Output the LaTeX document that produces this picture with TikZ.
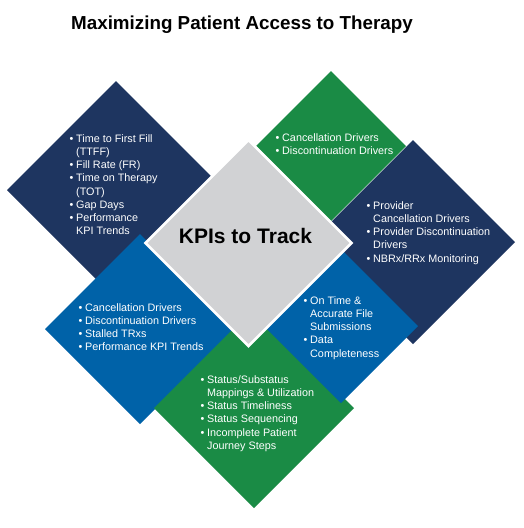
\documentclass[tikz,border=0pt]{standalone}
\usepackage{fontspec}
\setmainfont{Liberation Sans}
\definecolor{knavy}{HTML}{1E3560}
\definecolor{kgreen}{HTML}{1A8B45}
\definecolor{kblue}{HTML}{0062A8}
\definecolor{kgray}{HTML}{D1D2D4}
\newcommand\kb{\llap{\textbullet\hspace{2.8pt}}}
\newcommand\kdiamond[4]{\fill[#1] (#2,#3) ++(0,-#4) -- ++(#4,#4) -- ++(-#4,#4) -- ++(-#4,-#4) -- cycle;}
\begin{document}
\begin{tikzpicture}[x=1pt,y=-1pt,
  kpitext/.style={text=white, font=\fontsize{10.8}{13.2}\selectfont, align=left, anchor=north west, inner sep=0pt}]
\useasboundingbox[fill=white] (0,0) rectangle (524,528);
% diamonds, back to front
\kdiamond{knavy}{116}{190}{109}
\kdiamond{kblue}{140}{329}{95}
\kdiamond{kgreen}{254}{408}{100}
\kdiamond{kgreen}{331}{146}{75}
\kdiamond{knavy}{413}{242}{102}
\kdiamond{kblue}{341}{326}{77}
\filldraw[fill=kgray, draw=white, line width=2.5pt] (248.5,243) ++(0,-103) -- ++(103,103) -- ++(-103,103) -- ++(-103,-103) -- cycle;
% title
\node[anchor=base west, inner sep=0pt, font=\fontsize{18.8}{22}\selectfont\bfseries] (title) at (71,29.5) {Maximizing Patient Access to Therapy};
\node[anchor=base, inner sep=0pt, font=\fontsize{21}{24}\selectfont\bfseries] (center) at (245.5,243.5) {KPIs to Track};
% texts
\node[kpitext] (ta) at (76,134) {\rule{0pt}{8pt}\kb Time to First Fill\\ (TTFF)\\ \kb Fill Rate (FR)\\ \kb Time on Therapy\\ (TOT)\\ \kb Gap Days\\ \kb Performance\\ KPI Trends};
\node[kpitext] (tb) at (282,133) {\rule{0pt}{8pt}\kb Cancellation Drivers\\ \kb Discontinuation Drivers};
\node[kpitext] (tc) at (373,201) {\rule{0pt}{8pt}\kb Provider\\ Cancellation Drivers\\ \kb Provider Discontinuation\\ Drivers\\ \kb NBRx/RRx Monitoring};
\node[kpitext] (td) at (85,303) {\rule{0pt}{8pt}\kb Cancellation Drivers\\ \kb Discontinuation Drivers\\ \kb Stalled TRxs\\ \kb Performance KPI Trends};
\node[kpitext] (te) at (310,296) {\rule{0pt}{8pt}\kb On Time \&\\ Accurate File\\ Submissions\\ \kb Data\\ Completeness};
\node[kpitext] (tf) at (207,375) {\rule{0pt}{8pt}\kb Status/Substatus\\ Mappings \& Utilization\\ \kb Status Timeliness\\ \kb Status Sequencing\\ \kb Incomplete Patient\\ Journey Steps};
\end{tikzpicture}
\end{document}
